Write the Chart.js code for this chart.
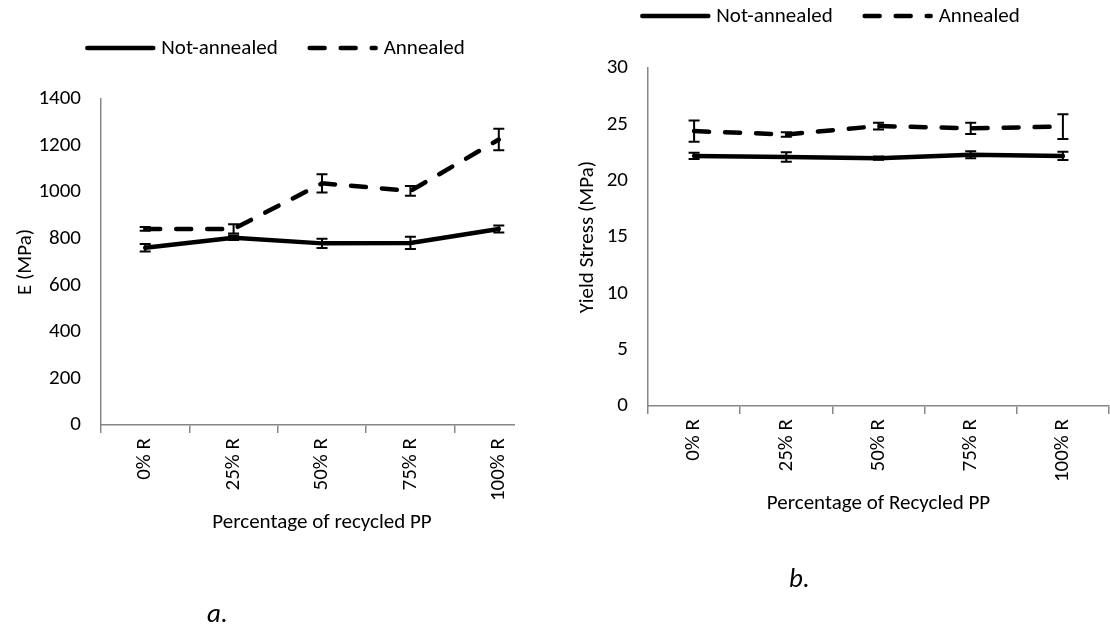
<!DOCTYPE html>
<html>
<head>
<meta charset="utf-8">
<script src="https://cdn.jsdelivr.net/npm/chart.js@4.4.1/dist/chart.umd.min.js"></script>
<style>
  html, body { margin: 0; padding: 0; background: #fff; }
  body { width: 1110px; height: 640px; position: relative; overflow: hidden; font-family: Carlito, Lato, sans-serif; }
  #panelA { position: absolute; left: 0; top: 0; width: 515px; height: 640px; overflow: hidden; }
  #panelB { position: absolute; left: 555px; top: 0; width: 555px; height: 640px; }
  canvas { display: block; }
  .caption { position: absolute; font-style: italic; font-size: 27px; color: #000; line-height: 1; }
</style>
</head>
<body>
<div id="panelA"><canvas id="chartA" width="544" height="640"></canvas></div>
<div id="panelB"><canvas id="chartB" width="555" height="640"></canvas></div>
<div class="caption" style="left:207px; top:599px;">a.</div>
<div class="caption" style="left:789px; top:564px;">b.</div>
<script>
// Sample groups (share of recycled polypropylene)
const categories = ['0% R', '25% R', '50% R', '75% R', '100% R'];

// Elastic modulus E (MPa), mean and standard deviation
const modulusNotAnnealed = [761, 804, 780, 782, 842];
const modulusNotAnnealedErr = [16, 10, 20, 26, 15];
const modulusAnnealed = [842, 842, 1038, 1005, 1226];
const modulusAnnealedErr = [8, 20, 39, 21, 46];

// Yield stress (MPa), mean and standard deviation
const yieldNotAnnealed = [22.2, 22.1, 22.0, 22.3, 22.2];
const yieldNotAnnealedErr = [0.28, 0.43, 0.15, 0.32, 0.37];
const yieldAnnealed = [24.4, 24.1, 24.85, 24.65, 24.8];
const yieldAnnealedErr = [0.95, 0.2, 0.3, 0.5, 1.1];

const seriesLabels = ['Not-annealed', 'Annealed'];

const FONT = 'Carlito, Lato, sans-serif';
const FONT_SIZE = 21;
const AXIS_GREY = '#878787';

Chart.defaults.font.family = FONT;
Chart.defaults.font.size = FONT_SIZE;
Chart.defaults.color = '#000';

// Vertical error bars with caps, drawn on top of the lines
const errorBars = {
  id: 'errorBars',
  afterDatasetsDraw(chart) {
    const ctx = chart.ctx;
    const yScale = chart.scales.y;
    chart.data.datasets.forEach((ds, i) => {
      const meta = chart.getDatasetMeta(i);
      (ds.errors || []).forEach((e, j) => {
        const v = ds.data[j];
        const px = meta.data[j].x;
        const top = yScale.getPixelForValue(v + e);
        const bot = yScale.getPixelForValue(v - e);
        ctx.save();
        ctx.strokeStyle = '#000';
        ctx.lineWidth = 2;
        ctx.setLineDash([]);
        ctx.beginPath();
        ctx.moveTo(px, top); ctx.lineTo(px, bot);
        ctx.moveTo(px - 5.5, top); ctx.lineTo(px + 5.5, top);
        ctx.moveTo(px - 5.5, bot); ctx.lineTo(px + 5.5, bot);
        ctx.stroke();
        ctx.restore();
      });
    });
  }
};

// Legend row: a line sample in each series' own stroke, then its label
const lineLegend = {
  id: 'lineLegend',
  afterDraw(chart, args, o) {
    const ctx = chart.ctx;
    ctx.save();
    ctx.font = FONT_SIZE + 'px ' + FONT;
    const items = chart.data.datasets.map(ds => ({
      ds, w: o.lineLen + o.gap + ctx.measureText(ds.label).width
    }));
    const total = items.reduce((s, it) => s + it.w, 0) + o.spacing * (items.length - 1);
    let x = o.centerX - total / 2;
    items.forEach(it => {
      ctx.strokeStyle = it.ds.borderColor;
      ctx.lineWidth = it.ds.borderWidth;
      ctx.lineCap = 'round';
      ctx.setLineDash(it.ds.borderDash || []);
      ctx.beginPath();
      ctx.moveTo(x, o.y);
      ctx.lineTo(x + o.lineLen, o.y);
      ctx.stroke();
      ctx.setLineDash([]);
      ctx.fillStyle = '#000';
      ctx.textAlign = 'left';
      ctx.textBaseline = 'middle';
      ctx.fillText(it.ds.label, x + o.lineLen + o.gap, o.y + 1);
      x += it.w + o.spacing;
    });
    ctx.restore();
  }
};

function makeDatasets(solid, solidErr, dashed, dashedErr) {
  return [
    {
      label: seriesLabels[0], data: solid, errors: solidErr,
      borderColor: '#000', backgroundColor: '#000', borderWidth: 4.5,
      borderCapStyle: 'round', borderJoinStyle: 'round',
      pointRadius: 0, pointHoverRadius: 0, tension: 0, fill: false
    },
    {
      label: seriesLabels[1], data: dashed, errors: dashedErr,
      borderColor: '#000', backgroundColor: '#000', borderWidth: 4.5,
      borderDash: [15, 16], borderCapStyle: 'round', borderJoinStyle: 'round',
      pointRadius: 0, pointHoverRadius: 0, tension: 0, fill: false
    }
  ];
}

function makeOptions(cfg) {
  return {
    responsive: false,
    animation: false,
    events: [],
    layout: { padding: { top: cfg.top, bottom: cfg.bottom, left: 0, right: cfg.right } },
    plugins: {
      legend: { display: false },
      tooltip: { enabled: false },
      lineLegend: { centerX: 276, y: cfg.legendY, lineLen: 66, gap: 8, spacing: 32 }
    },
    scales: {
      x: {
        type: 'category',
        offset: true,
        grid: { display: true, drawOnChartArea: false, drawTicks: true, tickLength: 8, offset: true, color: AXIS_GREY, lineWidth: 1.5 },
        border: { display: true, color: AXIS_GREY, width: 1.5 },
        ticks: { minRotation: 90, maxRotation: 90, padding: 5, color: '#000', font: { size: FONT_SIZE } },
        title: { display: true, text: cfg.xTitle, color: '#000', font: { size: FONT_SIZE }, padding: { top: 0, bottom: 0 } },
        afterFit(scale) { scale.height = 110; }
      },
      y: {
        min: cfg.yMin, max: cfg.yMax,
        grid: { display: false, drawTicks: false },
        border: { display: true, color: AXIS_GREY, width: 1.5 },
        ticks: { stepSize: cfg.yStep, padding: 20, color: '#000', font: { size: FONT_SIZE }, callback: v => String(v) },
        title: { display: true, text: cfg.yTitle, color: '#000', font: { size: FONT_SIZE }, padding: { top: cfg.yTitlePad, bottom: 0 } },
        afterFit(scale) { scale.width = cfg.yWidth; }
      }
    }
  };
}

new Chart(document.getElementById('chartA'), {
  type: 'line',
  data: { labels: categories, datasets: makeDatasets(modulusNotAnnealed, modulusNotAnnealedErr, modulusAnnealed, modulusAnnealedErr) },
  options: makeOptions({
    top: 99, bottom: 105, right: 1, legendY: 48,
    xTitle: 'Percentage of recycled PP', yTitle: 'E (MPa)',
    yMin: 0, yMax: 1400, yStep: 200, yWidth: 101, yTitlePad: 13
  }),
  plugins: [errorBars, lineLegend]
});

new Chart(document.getElementById('chartB'), {
  type: 'line',
  data: { labels: categories, datasets: makeDatasets(yieldNotAnnealed, yieldNotAnnealedErr, yieldAnnealed, yieldAnnealedErr) },
  options: makeOptions({
    top: 68, bottom: 124, right: 1, legendY: 16,
    xTitle: 'Percentage of Recycled PP', yTitle: 'Yield Stress (MPa)',
    yMin: 0, yMax: 30, yStep: 5, yWidth: 93, yTitlePad: 20
  }),
  plugins: [errorBars, lineLegend]
});
</script>
</body>
</html>
